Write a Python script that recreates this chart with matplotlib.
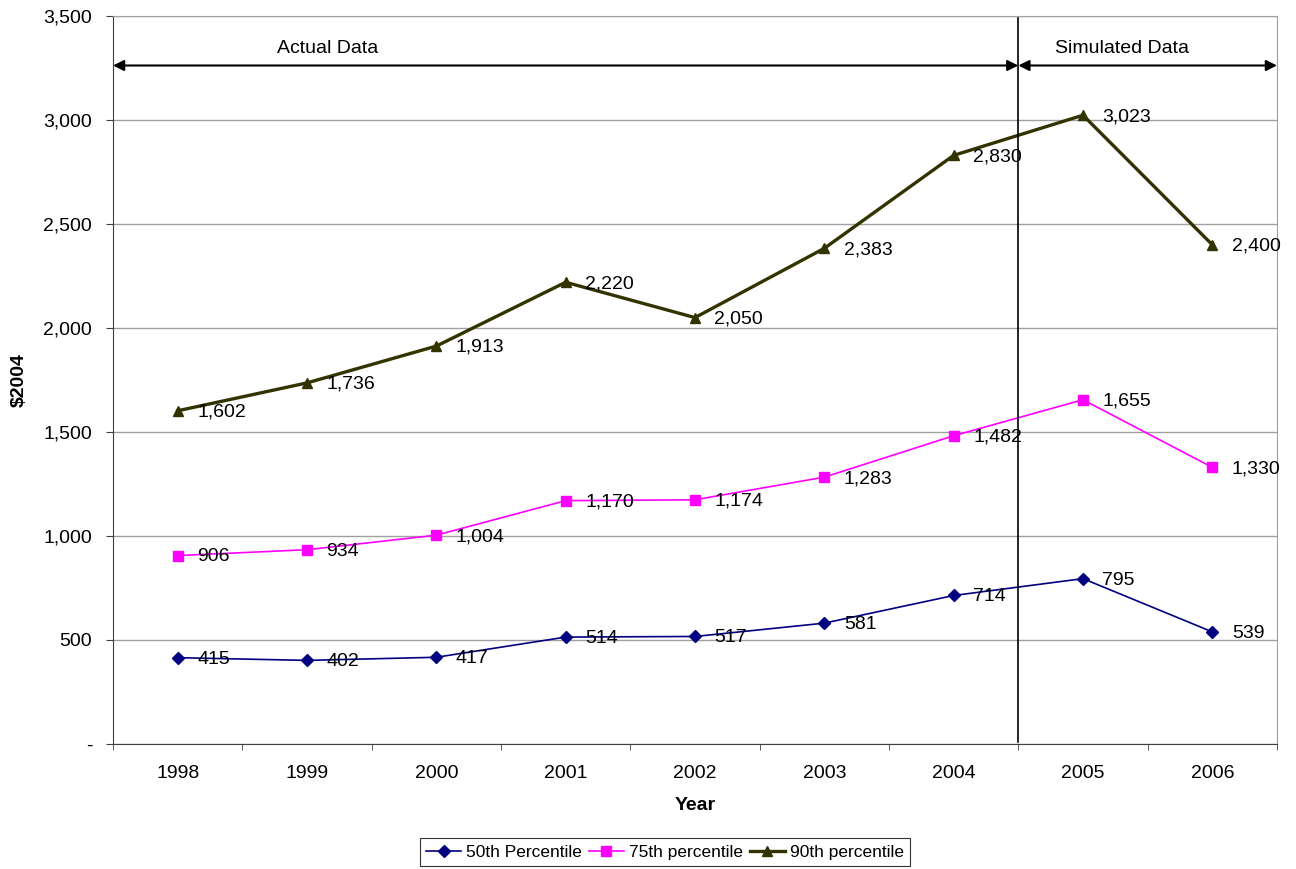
import matplotlib
matplotlib.use("Agg")
import matplotlib.pyplot as plt
from matplotlib.ticker import FuncFormatter, MultipleLocator

plt.rcParams['font.family'] = ['Liberation Sans', 'DejaVu Sans']

years = ['1998', '1999', '2000', '2001', '2002', '2003', '2004', '2005', '2006']
p50 = [415, 402, 417, 514, 517, 581, 714, 795, 539]
p75 = [906, 934, 1004, 1170, 1174, 1283, 1482, 1655, 1330]
p90 = [1602, 1736, 1913, 2220, 2050, 2383, 2830, 3023, 2400]
n_actual = 7  # 1998-2004 are actual, rest simulated

fig = plt.figure(figsize=(12.96, 8.69), dpi=100)
ax = fig.add_axes([113 / 1296, 1 - 744 / 869, (1277 - 113) / 1296, (744 - 16) / 869])

x = list(range(len(years)))
series = [
    (p50, '50th Percentile', '#000080', 'D', 1.2, 6),
    (p75, '75th percentile', '#FF00FF', 's', 1.2, 7),
    (p90, '90th percentile', '#333300', '^', 2.4, 7.5),
]
for vals, name, col, mk, lw, ms in series:
    ax.plot(x, vals, color=col, lw=lw, marker=mk, markersize=ms,
            markerfacecolor=col, markeredgecolor=col, label=name)
    for xi, v in zip(x, vals):
        ax.annotate(f'{v:,}', (xi, v), xytext=(14, -1), textcoords='offset points',
                    ha='left', va='center', fontsize=14, color='black')

ax.set_xlim(-0.5, len(years) - 0.5)
ax.set_ylim(0, 3500)
ax.yaxis.set_major_locator(MultipleLocator(500))
ax.yaxis.set_major_formatter(FuncFormatter(lambda v, p: '-' if v == 0 else f'{int(v):,}'))
ax.set_xticks(x)
ax.set_xticklabels(years)
ax.set_xticks([i - 0.5 for i in range(len(years) + 1)], minor=True)
ax.tick_params(axis='x', which='major', length=0, pad=15, labelsize=14)
ax.tick_params(axis='x', which='minor', length=4, direction='out', color='#404040')
ax.tick_params(axis='y', length=5, direction='out', color='#404040', labelsize=14, pad=10)
ax.grid(axis='y', color='#a0a0a0', lw=1)
ax.set_axisbelow(True)

for s in ['top', 'right']:
    ax.spines[s].set_color('#a0a0a0')
for s in ['left', 'bottom']:
    ax.spines[s].set_color('#404040')

ax.set_xlabel('Year', fontsize=14, fontweight='bold')
ax.xaxis.set_label_coords(0.5, -(797 - 744) / 728)
ax.set_ylabel('$2004', fontsize=14, fontweight='bold')
ax.yaxis.set_label_coords(-(113 - 28) / 1164, (744 - 380) / 728)

# divider between actual and simulated data
split = n_actual - 0.5
ax.axvline(split, ymin=0.003, ymax=0.997, color='black', lw=1.2)
arr_y = 3262
ax.annotate('', xy=(-0.5, arr_y), xytext=(split, arr_y),
            arrowprops=dict(arrowstyle='<|-|>', color='black', lw=1.5, mutation_scale=16,
                            shrinkA=0, shrinkB=0))
ax.annotate('', xy=(split, arr_y), xytext=(len(years) - 0.5, arr_y),
            arrowprops=dict(arrowstyle='<|-|>', color='black', lw=1.5, mutation_scale=16,
                            shrinkA=0, shrinkB=0))
ax.text(1.16, 3345, 'Actual Data', ha='center', va='center', fontsize=14)
ax.text(7.3, 3345, 'Simulated Data', ha='center', va='center', fontsize=14)

leg = fig.legend(loc='center', bbox_to_anchor=(665 / 1296, 1 - 852 / 869), ncol=3,
                 fontsize=12.5, frameon=True, fancybox=False, edgecolor='black',
                 handlelength=2.0, handletextpad=0.3, columnspacing=0.4,
                 borderpad=0.35, borderaxespad=0)
leg.get_frame().set_linewidth(0.8)

fig.savefig('out.png', dpi=100)
